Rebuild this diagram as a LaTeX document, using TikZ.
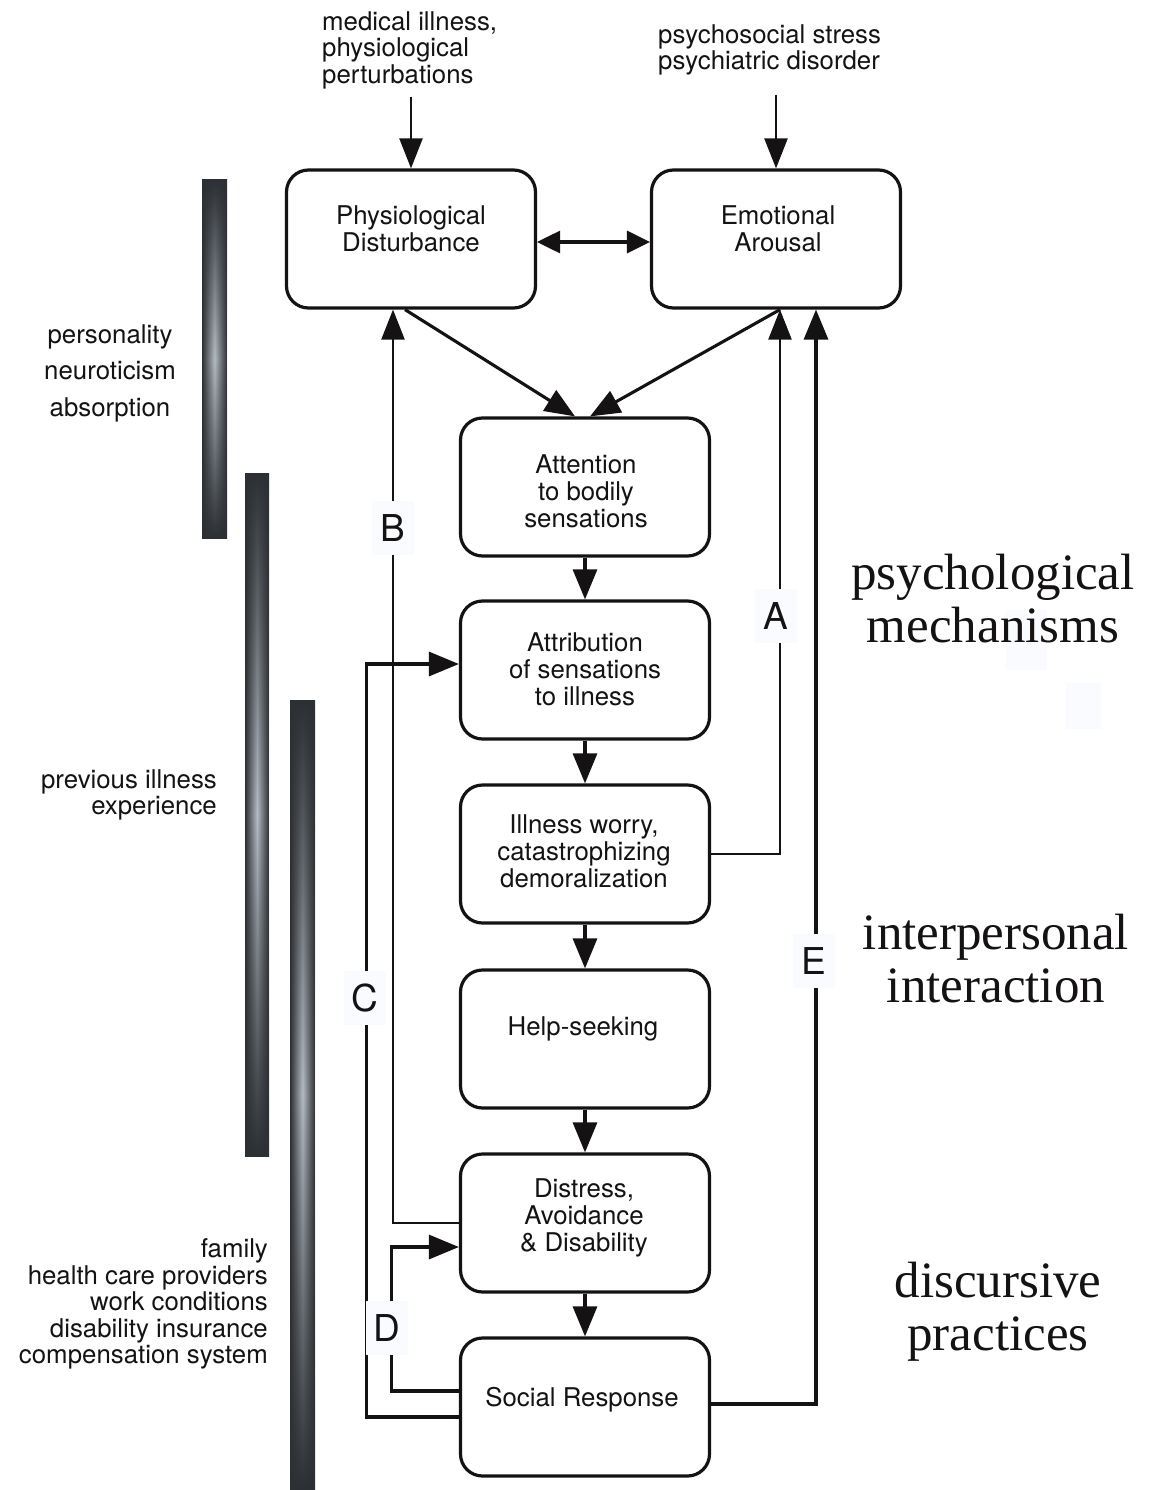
\documentclass[tikz,border=0pt]{standalone}
\usepackage{fontspec}
\newfontfamily\hel{TeX Gyre Heros}
\newfontfamily\bigserif{Liberation Serif}
\usetikzlibrary{arrows.meta,calc,fadings}
\definecolor{bardark}{HTML}{2C2F33}
\definecolor{barlight}{HTML}{B4BCC4}
\definecolor{labelbg}{HTML}{FAFBFE}
\definecolor{ink}{HTML}{141213}
\tikzfading[name=edgefade, left color=transparent!0, right color=transparent!0, middle color=transparent!100]
\tikzset{
  box/.style={draw=ink, line width=3.2pt, rounded corners=22pt, minimum width=249pt, minimum height=138pt, inner sep=0pt},
  btext/.style={font=\hel\fontsize{25.8}{27}\selectfont, align=center, inner sep=0pt, text=ink},
  side/.style={font=\hel\fontsize{25.8}{26.5}\selectfont, inner sep=0pt, text=ink},
  big/.style={font=\bigserif\fontsize{51}{53}\selectfont, align=center, inner sep=0pt, text=ink},
  arr/.style={draw=ink, line width=3.1pt, -{Triangle[length=30pt,width=24pt]}},
  thinarr/.style={draw=ink, line width=2.3pt, -{Triangle[length=30pt,width=23pt]}},
  lbl/.style={fill=labelbg, font=\hel\fontsize{37}{40}\selectfont, minimum width=42pt, minimum height=54pt, inner sep=0pt, text=ink},
  bar/.style={top color=bardark, bottom color=bardark, middle color=barlight}
}
\begin{document}
\begin{tikzpicture}[x=1pt,y=-1pt]
\fill[white] (0,0) rectangle (1150,1490);
\useasboundingbox (0,0) rectangle (1150,1490);
% gradient bars
\shade[bar] (202,180) rectangle (227,538);
\fill[bardark, path fading=edgefade] (202,180) rectangle (227,538);
\shade[bar] (245,473) rectangle (269,1156);
\fill[bardark, path fading=edgefade] (245,473) rectangle (269,1156);
\shade[bar] (290,700) rectangle (315,1490);
\fill[bardark, path fading=edgefade] (290,700) rectangle (315,1490);
% faint patches
\fill[labelbg] (1006,610) rectangle (1047,670);
\fill[labelbg] (1066,683) rectangle (1101,729);
% boxes
\node[box] (phys) at (411,239) {};
\node[box] (emot) at (776,239) {};
\node[box] (att) at (585,487) {};
\node[box] (attr) at (585,670) {};
\node[box] (worry) at (585,854) {};
\node[box] (help) at (585,1039) {};
\node[box] (dist) at (585,1223) {};
\node[box] (social) at (585,1407) {};
% box texts
\node[btext] (physT) at (411,229) {Physiological\\Disturbance};
\node[btext] (emotT) at (778,229) {Emotional\\Arousal};
\node[btext] (attT) at (586,491) {Attention\\to bodily\\sensations};
\node[btext] (attrT) at (585,669) {Attribution\\of sensations\\to illness};
\node[btext] (worryT) at (584,851) {Illness worry,\\catastrophizing\\demoralization};
\node[btext] (helpT) at (583,1029) {Help-seeking};
\node[btext] (distT) at (584,1218) {Distress,\\Avoidance\\\& Disability};
\node[btext] (socialT) at (582,1400) {Social Response};
% top inputs
\node[side, anchor=north west, align=left] (medT) at (322,11) {medical illness,\\physiological\\perturbations};
\node[side, anchor=north west, align=left] (psyT) at (658,24) {psychosocial stress\\psychiatric disorder};
\coordinate (medtail) at (411,97);
\coordinate (psytail) at (776,95);
\draw[thinarr] (medtail) -- (phys.north);
\draw[thinarr] (psytail) -- (emot.north);
\draw[draw=ink, line width=3.1pt, {Triangle[length=23pt,width=22pt]}-{Triangle[length=23pt,width=22pt]}] ($(phys.east)+(0,3)$) -- ($(emot.west)+(0,3)$);
\draw[arr] ($(phys.south)+(-6,0)$) -- ($(att.north)+(-10,0)$);
\draw[arr] ($(emot.south)+(4,0)$) -- ($(att.north)+(5,0)$);
% chain
\draw[arr] (att.south) -- (attr.north);
\draw[arr] (attr.south) -- (worry.north);
\draw[arr] (worry.south) -- (help.north);
\draw[arr] (help.south) -- (dist.north);
\draw[arr] (dist.south) -- (social.north);
% feedback loops
\draw[thinarr] (worry.east) -| ($(emot.south)+(4,0)$);
\draw[arr] ($(social.east)+(0,-3)$) -| ($(emot.south)+(40,0)$);
\draw[thinarr] (dist.west) -| ($(phys.south)+(-18,0)$);
\draw[arr] ($(social.west)+(0,10)$) -- ++(-92,0) |- ($(attr.west)+(0,-6)$);
\draw[arr] ($(social.west)+(0,-16)$) -- ++(-67,0) |- ($(dist.west)+(0,24)$);
% loop labels
\node[lbl] (lblA) at (776,616) {A};
\node[lbl] (lblB) at (393,528) {B};
\node[lbl] (lblC) at (365,998) {C};
\node[lbl] (lblD) at (387,1328) {D};
\node[lbl] (lblE) at (814,961) {E};
% left side texts
\node[side, align=center, font=\hel\fontsize{25.8}{36.5}\selectfont] (persT) at (110,373) {personality\\neuroticism\\absorption};
\node[side, align=right, anchor=east] (prevT) at (217,795) {previous illness\\experience};
\node[side, align=right, anchor=east] (famT) at (268,1304) {family\\health care providers\\work conditions\\disability insurance\\compensation system};
% right big texts
\node[big] (psychT) at (993,599) {psychological\\mechanisms};
\node[big] (interT) at (996,959) {interpersonal\\interaction};
\node[big] (discT) at (998,1312) {discursive\\practices};
\end{tikzpicture}
\end{document}
